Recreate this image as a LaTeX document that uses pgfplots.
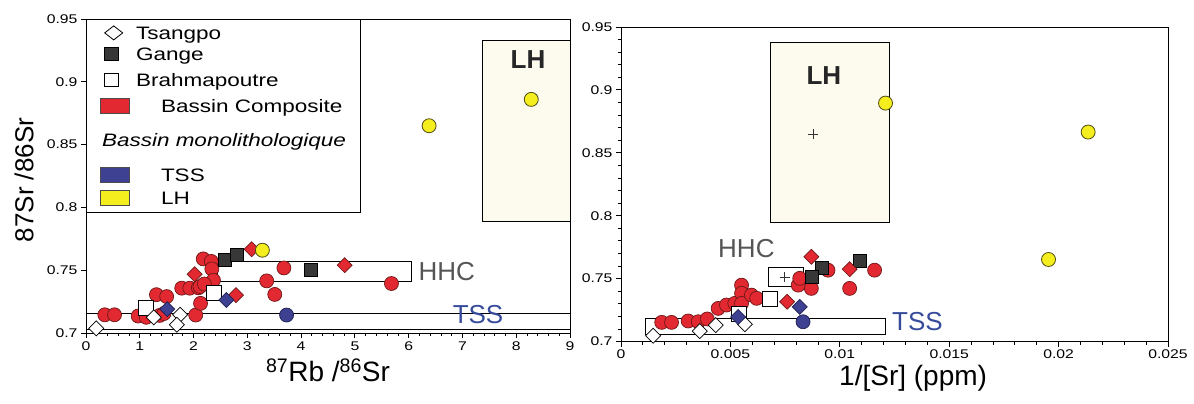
\documentclass[border=0pt]{standalone}
\usepackage{fontspec}
\setmainfont{Liberation Sans}
\newfontfamily\wide{Liberation Sans}[FakeStretch=1.25]
\usepackage{pgfplots}
\pgfplotsset{compat=1.18}
\definecolor{rfill}{RGB}{226,40,48}
\definecolor{redge}{RGB}{110,25,25}
\definecolor{gfill}{RGB}{55,55,55}
\definecolor{bfill}{RGB}{62,64,145}
\definecolor{bedge}{RGB}{30,32,80}
\definecolor{yfill}{RGB}{244,238,30}
\definecolor{yedge}{RGB}{80,75,20}
\definecolor{lhfill}{RGB}{252,251,238}
\definecolor{hhctext}{RGB}{85,85,85}
\definecolor{tsstext}{RGB}{55,75,155}
\newcommand\ticks{\wide\fontsize{12.6bp}{14bp}\selectfont}
\newcommand\labfont{\fontsize{28bp}{30bp}\selectfont}
\newcommand\ylabfont{\fontsize{26bp}{28bp}\selectfont}
\newcommand\legfont{\wide\fontsize{18bp}{20bp}\selectfont}
\newcommand\txtfont{\fontsize{26bp}{28bp}\selectfont}
\pgfplotsset{
  base/.style={only marks, forget plot},
  redc/.style={base, mark=*, mark size=7bp, mark options={fill=rfill, draw=redge, line width=0.7bp}},
  bluec/.style={base, mark=*, mark size=7bp, mark options={fill=bfill, draw=bedge, line width=0.7bp}},
  yelc/.style={base, mark=*, mark size=7bp, mark options={fill=yfill, draw=yedge, line width=0.8bp}},
  wdia/.style={base, mark=square*, mark size=5.3bp, mark options={rotate=45, fill=white, draw=black, line width=0.7bp}},
  rdia/.style={base, mark=square*, mark size=5.3bp, mark options={rotate=45, fill=rfill, draw=redge, line width=0.7bp}},
  bdia/.style={base, mark=square*, mark size=5.3bp, mark options={rotate=45, fill=bfill, draw=bedge, line width=0.7bp}},
  gsq/.style={base, mark=square*, mark size=6.5bp, mark options={fill=gfill, draw=black, line width=0.7bp}},
  wsq/.style={base, mark=square*, mark size=7.5bp, mark options={fill=white, draw=black, line width=0.7bp}},
  plus/.style={base, mark=+, mark size=5bp, mark options={draw=black!80, line width=0.6bp}},
  box/.style={draw=black, line width=0.8bp, forget plot, mark=none},
  legdia/.style={legend image code/.code={\path[draw=none,fill=none] (0bp,-7.5bp) rectangle (29bp,7.5bp); \draw[##1] (13bp,7bp) -- (22bp,0bp) -- (13bp,-7bp) -- (4bp,0bp) -- cycle;}},
  legsq/.style={legend image code/.code={\path[draw=none,fill=none] (0bp,-7.5bp) rectangle (29bp,7.5bp); \draw[##1] (3.5bp,-6.5bp) rectangle (17.5bp,6.5bp);}},
  legrect/.style={legend image code/.code={\draw[##1] (0bp,-7.5bp) rectangle (29bp,7.5bp);}},
  common/.style={scale only axis, tick pos=left, tick align=outside,
    major tick length=5bp, minor tick length=3bp,
    axis line style={line width=0.9bp},
    every tick/.style={black, line width=0.8bp},
    tick label style={font=\ticks},
    /pgf/number format/assume math mode=true,
    clip=false,
    every axis x label/.style={at={(axis description cs:0.5,0)}, anchor=center, yshift=-37bp, font=\labfont},
  },
}
\begin{document}
\begin{tikzpicture}
\path[use as bounding box] (0,0) rectangle (1194bp,404bp);
% ---------------- left panel
\begin{axis}[common, at={(86bp,71bp)}, anchor=south west, width=484bp, height=314bp,
  xmin=0, xmax=9, ymin=0.7, ymax=0.95,
  xtick={0,1,2,3,4,5,6,7,8,9}, minor x tick num=4,
  ytick={0.7,0.75,0.8,0.85,0.9,0.95}, yticklabels={0.7,0.75,0.8,0.85,0.9,0.95},
  xlabel={\textsuperscript{87}Rb /\textsuperscript{86}Sr},
  ylabel={87Sr /86Sr},
  every axis y label/.style={at={(axis description cs:-0.128,0.487)}, anchor=center, rotate=90, font=\ylabfont},
  legend cell align=left,
  legend style={at={(axis description cs:0,1)}, anchor=north west, draw=black, line width=0.8bp, fill=white,
    inner xsep=14bp, inner ysep=6bp, row sep=0pt, column sep=6bp,
    nodes={inner sep=0pt, font=\legfont, text height=13bp, text depth=0pt}},
]
\addplot[box, fill=lhfill] coordinates {(7.37,0.789) (9,0.789) (9,0.933) (7.37,0.933)} -- cycle;
\addplot[box] coordinates {(0,0.703) (9,0.703) (9,0.7156) (0,0.7156)} -- cycle;
\addplot[box] coordinates {(2.45,0.7407) (6.05,0.7407) (6.05,0.7569) (2.45,0.7569)} -- cycle;
\addplot[redc] coordinates {(0.35,0.7145) (0.53,0.7145) (0.97,0.7135) (1.12,0.7125) (1.31,0.7305) (1.5,0.729)
  (1.37,0.714) (1.45,0.7155) (1.78,0.7357) (1.93,0.7357) (2.09,0.736) (2.04,0.7143) (2.13,0.7236)
  (2.18,0.759) (2.33,0.757) (2.34,0.751) (2.37,0.742) (2.12,0.737) (2.2,0.739)
  (3.68,0.7518) (3.36,0.7415) (3.51,0.7307) (5.68,0.7394)};
\addplot[wsq] coordinates {(1.11,0.7204) (2.38,0.7321)};
\addplot[wdia] coordinates {(0.19,0.7037) (1.26,0.7125) (1.75,0.7145) (1.69,0.7065)};
\addplot[gsq] coordinates {(2.58,0.758) (2.81,0.762) (4.19,0.7505)};
\addplot[rdia] coordinates {(2.02,0.7468) (3.08,0.7667) (2.79,0.7302) (4.81,0.754)};
\addplot[bdia] coordinates {(1.51,0.719) (2.61,0.7262)};
\addplot[bluec] coordinates {(3.73,0.7143)};
\addplot[yelc] coordinates {(3.28,0.7659) (6.38,0.865) (8.28,0.886)};
\node[font=\txtfont, text=hhctext] at (axis cs:6.71,0.749) {HHC};
\node[font=\txtfont, text=tsstext] at (axis cs:7.29,0.7143) {TSS};
\node[font=\txtfont\bfseries, text=black!85] at (axis cs:8.22,0.9175) {LH};
% legend
\addlegendimage{fill=white, draw=black, line width=0.8bp, legdia}
\addlegendentry[minimum height=15bp]{Tsangpo}
\addlegendimage{fill=gfill, draw=black, line width=0.8bp, legsq}
\addlegendentry[minimum height=26.2bp]{Gange}
\addlegendimage{fill=white, draw=black, line width=0.8bp, legsq}
\addlegendentry[minimum height=25.8bp]{Brahmapoutre}
\addlegendimage{fill=rfill, draw=black!70, line width=0.6bp, legrect}
\addlegendentry[minimum height=27.6bp]{\hspace*{25bp}Bassin Composite}
\addlegendimage{empty legend}
\addlegendentry[minimum height=40.4bp]{\hspace*{-34bp}\textit{Bassin monolithologique}}
\addlegendimage{fill=bfill, draw=black!70, line width=0.6bp, legrect}
\addlegendentry[minimum height=29.6bp]{\hspace*{25bp}TSS}
\addlegendimage{fill=yfill, draw=black!70, line width=0.6bp, legrect}
\addlegendentry[minimum height=16.4bp]{\hspace*{25bp}LH}
\end{axis}
% ---------------- right panel
\begin{axis}[common, at={(621bp,62.5bp)}, anchor=south west, width=547bp, height=314.5bp,
  xmin=0, xmax=0.025, ymin=0.7, ymax=0.95,
  scaled x ticks=false,
  xtick={0,0.005,0.01,0.015,0.02,0.025}, xticklabels={0,0.005,0.01,0.015,0.02,0.025}, minor x tick num=4,
  ytick={0.7,0.75,0.8,0.85,0.9,0.95}, yticklabels={0.7,0.75,0.8,0.85,0.9,0.95}, minor y tick num=4,
  xlabel={1/[Sr] (ppm)},
  every axis x label/.style={at={(axis description cs:0.534,0)}, anchor=center, yshift=-37bp, font=\labfont},
]
\addplot[box, fill=lhfill] coordinates {(0.00683,0.7943) (0.01225,0.7943) (0.01225,0.938) (0.00683,0.938)} -- cycle;
\addplot[box] coordinates {(0.0011,0.706) (0.0121,0.706) (0.0121,0.718) (0.0011,0.718)} -- cycle;
\addplot[box] coordinates {(0.00672,0.7435) (0.00832,0.7435) (0.00832,0.7586) (0.00672,0.7586)} -- cycle;
\addplot[plus] coordinates {(0.00748,0.7514) (0.00877,0.865)};
\addplot[redc] coordinates {(0.00186,0.7152) (0.00231,0.7152) (0.00307,0.7163) (0.00353,0.7157) (0.00394,0.7179)
  (0.00444,0.7263) (0.00482,0.729) (0.0052,0.7303) (0.00551,0.7448) (0.00551,0.7383) (0.00551,0.7303)
  (0.00596,0.7369) (0.0062,0.7343) (0.00946,0.7567) (0.0081,0.7448) (0.0087,0.7422) (0.00817,0.7502)
  (0.01159,0.7567) (0.01045,0.7422)};
\addplot[wsq] coordinates {(0.0054,0.722) (0.0068,0.7343)};
\addplot[wdia] coordinates {(0.00147,0.7046) (0.0036,0.7083) (0.00433,0.713) (0.00566,0.7137)};
\addplot[gsq] coordinates {(0.0092,0.7586) (0.0087,0.7514) (0.0109,0.7639)};
\addplot[rdia] coordinates {(0.0087,0.7673) (0.01045,0.7575) (0.00759,0.7316)};
\addplot[bdia] coordinates {(0.00535,0.7195) (0.00817,0.7276)};
\addplot[bluec] coordinates {(0.00832,0.7157)};
\addplot[yelc] coordinates {(0.01209,0.8895) (0.02135,0.8665) (0.01954,0.7652)};
\node[font=\txtfont, text=hhctext] at (axis cs:0.00573,0.774) {HHC};
\node[font=\txtfont, text=tsstext] at (axis cs:0.01355,0.7155) {TSS};
\node[font=\txtfont\bfseries, text=black!85] at (axis cs:0.00927,0.9115) {LH};
\end{axis}
\end{tikzpicture}
\end{document}
